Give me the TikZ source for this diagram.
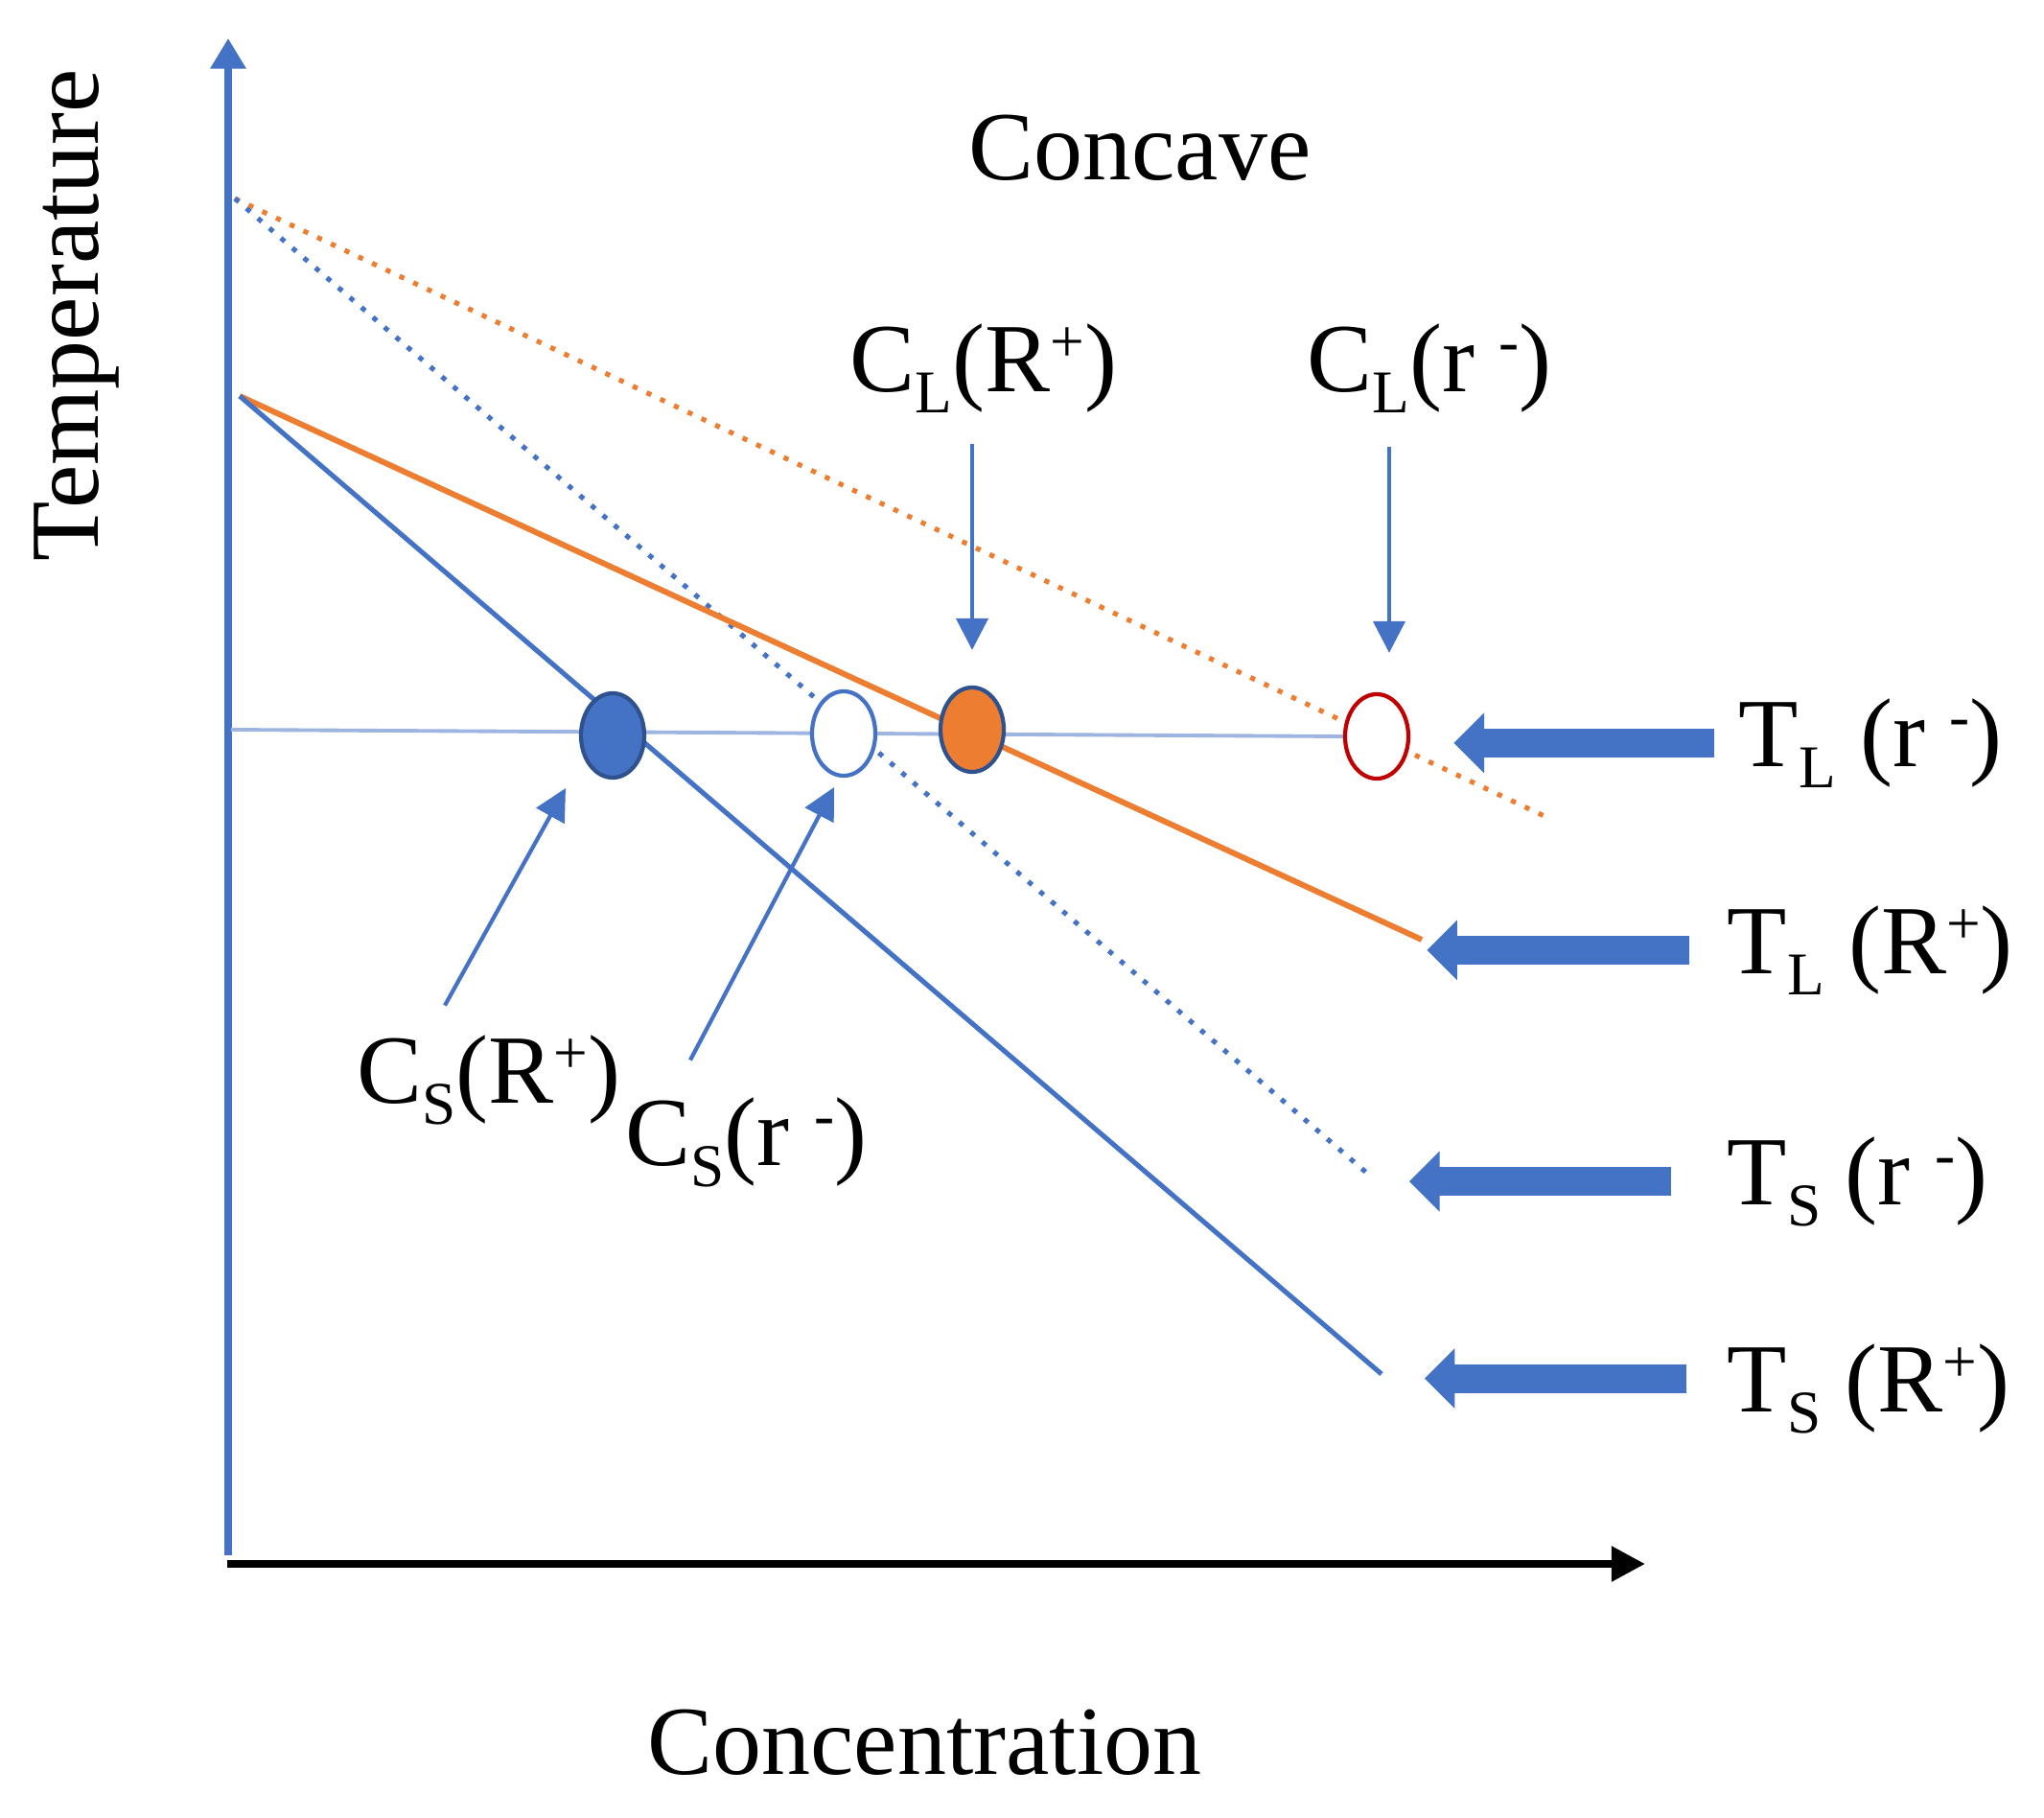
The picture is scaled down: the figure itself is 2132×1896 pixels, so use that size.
\documentclass[tikz,border=0pt]{standalone}
\usepackage{fontspec}
\setmainfont{Liberation Serif}
\usepackage{graphicx}
\usetikzlibrary{arrows.meta}
\usetikzlibrary{calc}
\usepgflibrary{shapes.geometric}

\definecolor{tblue}{HTML}{4472C4}
\definecolor{tdark}{HTML}{2F528F}
\definecolor{torange}{HTML}{ED7D31}
\definecolor{tpale}{HTML}{9DB5E0}
\definecolor{tred}{HTML}{C00000}

\newcommand{\lowtxt}[1]{\raisebox{-0.22em}{\fontsize{18}{18}\selectfont #1}}
\newcommand{\hightxt}[1]{\raisebox{0.3em}{\fontsize{18}{18}\selectfont #1}}

\tikzset{
  spot/.style={ellipse, minimum width=0.66cm, minimum height=0.88cm, inner sep=0pt, line width=1.2pt},
  lbl/.style={anchor=base west, inner sep=0pt},
  ptr/.style={draw=tblue, line width=1.2pt, -{Triangle[length=9.4pt,width=9.4pt]}},
  bigarrow/.style={draw=tblue, line width=8.5pt, -{Triangle[length=9pt,width=17.4pt]}},
  tline/.style={draw=tblue, line width=1.45pt},
  oline/.style={draw=torange, line width=1.7pt},
  tdots/.style={draw=tblue, line width=1.45pt, dash pattern=on 1.5pt off 3pt},
  odots/.style={draw=torange, line width=1.45pt, dash pattern=on 1.5pt off 3pt}
}

\begin{document}
\begin{tikzpicture}[x=0.01cm, y=-0.01cm, font=\fontsize{29}{35}\selectfont]
          \useasboundingbox (0,0) rectangle (2132,1896);

          % axes
          \coordinate (yfoot) at (238,1622);
          \coordinate (ytop) at (238,40);
          \coordinate (xfoot) at (237,1631);
          \coordinate (xend) at (1716,1631);
          \draw[draw=tblue, line width=2pt, -{Triangle[length=9pt,width=10.2pt]}] (yfoot) -- (ytop);
          \draw[draw=black, line width=2.3pt, -{Triangle[length=10pt,width=10pt]}] (xfoot) -- (xend);

          % liquidus and solidus
          \coordinate (liqtop) at (245,207);
          \coordinate (soltop) at (250,413);
          \coordinate (tlrend) at (1617,854);
          \coordinate (tsrend) at (1430,1227);
          \coordinate (tlRend) at (1483,980);
          \coordinate (tsRend) at (1441,1433);
          \draw[odots] (liqtop) -- (tlrend);
          \draw[tdots] (liqtop) -- (tsrend);
          \draw[oline] (soltop) -- (tlRend);
          \draw[tline] (soltop) -- (tsRend);

          % isotherm
          \coordinate (hstart) at (241,761);
          \coordinate (hend) at (1403,768);
          \draw[draw=tpale, line width=1.1pt] (hstart) -- (hend);

          \node[spot, fill=tblue, draw=tdark] (csRdot) at (639,767) {};
          \node[spot, fill=white, draw=tblue] (csrdot) at (880,765) {};
          \node[spot, fill=torange, draw=tdark] (clRdot) at (1014,761) {};
          \node[spot, fill=white, draw=tred] (clrdot) at (1436,768) {};

          % labels
          \node[lbl] (title) at (1010,187) {Concave};
          \node[lbl] (xlab) at (675,1850) {Concentration};
          \node[rotate=90, anchor=base, inner sep=0pt] (ylab) at (102,329) {Temperature};

          \node[lbl] (clR) at (886,408) {C\lowtxt{L}(R\hightxt{+})};
          \node[lbl] (clr) at (1363,408) {C\lowtxt{L}(r \hightxt{-})};
          \node[lbl] (csR) at (372,1150) {C\lowtxt{S}(R\hightxt{+})};
          \node[lbl] (csr) at (652,1215) {C\lowtxt{S}(r \hightxt{-})};
          \node[lbl] (tlr) at (1813,799) {T\lowtxt{L} (r \hightxt{-})};
          \node[lbl] (tlR) at (1801,1015) {T\lowtxt{L} (R\hightxt{+})};
          \node[lbl] (tsr) at (1801,1256) {T\lowtxt{S} (r \hightxt{-})};
          \node[lbl] (tsR) at (1801,1472) {T\lowtxt{S} (R\hightxt{+})};

          % pointers
          \draw[ptr] ($(clR.south -| clRdot)+(0,32)$) -- ($(clRdot.north)+(0,-37)$);
          \draw[ptr] ($(clr.south -| clrdot)+(13,35)$) -- ($(clrdot.north)+(13,-41)$);
          \draw[ptr] ($(csR.north west)+(92,-30)$) -- ($(csRdot)+(-49,55)$);
          \draw[ptr] ($(csr.north west)+(68,-38)$) -- ($(csrdot)+(-10,56)$);

          \draw[bigarrow] ([xshift=-7pt]tlr.west) -- ++(-272,0);
          \draw[bigarrow] ([xshift=-11pt]tlR.west) -- ++(-274,0);
          \draw[bigarrow] ([xshift=-16.5pt]tsr.west) -- ++(-273,0);
          \draw[bigarrow] ([xshift=-12pt,yshift=3pt]tsR.west) -- ++(-273,0);
        \end{tikzpicture}
\end{document}
